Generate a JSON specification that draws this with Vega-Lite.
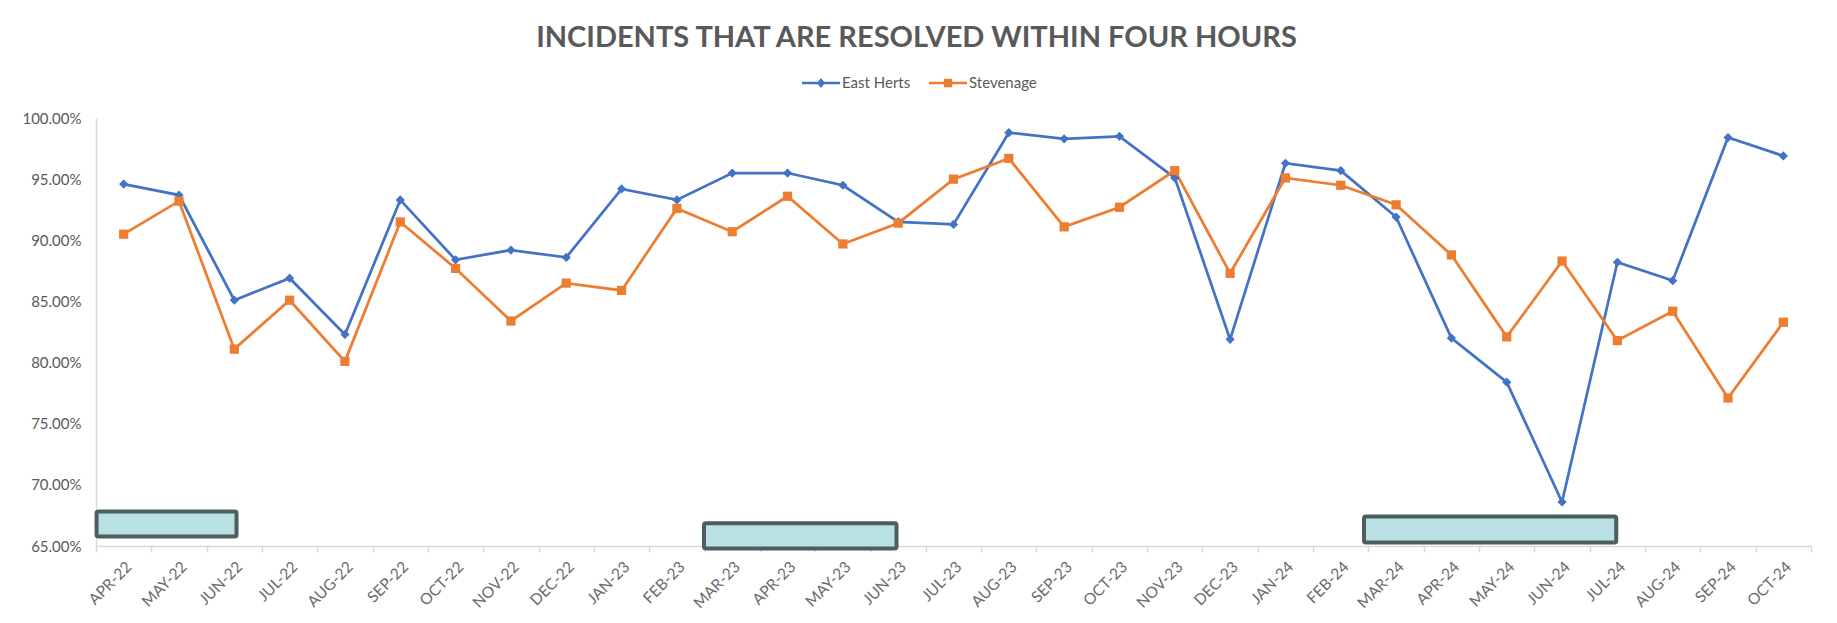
{
  "$schema": "https://vega.github.io/schema/vega-lite/v6.json",
  "width": 1715,
  "height": 428,
  "autosize": {"type": "none"},
  "padding": {"left": 96, "top": 118, "right": 26, "bottom": 77},
  "background": "white",
  "config": {"view": {"stroke": null}},
  "title": {
    "text": "INCIDENTS THAT ARE RESOLVED WITHIN FOUR HOURS",
    "anchor": "middle",
    "font": "Lato",
    "fontSize": 29,
    "fontWeight": "bold",
    "color": "#595959",
    "dx": -37,
    "offset": 11
  },
  "datasets": {
    "perf": [
      {"month": "APR-22", "series": "East Herts", "value": 0.946},
      {"month": "MAY-22", "series": "East Herts", "value": 0.937},
      {"month": "JUN-22", "series": "East Herts", "value": 0.851},
      {"month": "JUL-22", "series": "East Herts", "value": 0.869},
      {"month": "AUG-22", "series": "East Herts", "value": 0.823},
      {"month": "SEP-22", "series": "East Herts", "value": 0.933},
      {"month": "OCT-22", "series": "East Herts", "value": 0.884},
      {"month": "NOV-22", "series": "East Herts", "value": 0.892},
      {"month": "DEC-22", "series": "East Herts", "value": 0.886},
      {"month": "JAN-23", "series": "East Herts", "value": 0.942},
      {"month": "FEB-23", "series": "East Herts", "value": 0.933},
      {"month": "MAR-23", "series": "East Herts", "value": 0.955},
      {"month": "APR-23", "series": "East Herts", "value": 0.955},
      {"month": "MAY-23", "series": "East Herts", "value": 0.945},
      {"month": "JUN-23", "series": "East Herts", "value": 0.915},
      {"month": "JUL-23", "series": "East Herts", "value": 0.913},
      {"month": "AUG-23", "series": "East Herts", "value": 0.988},
      {"month": "SEP-23", "series": "East Herts", "value": 0.983},
      {"month": "OCT-23", "series": "East Herts", "value": 0.985},
      {"month": "NOV-23", "series": "East Herts", "value": 0.951},
      {"month": "DEC-23", "series": "East Herts", "value": 0.819},
      {"month": "JAN-24", "series": "East Herts", "value": 0.963},
      {"month": "FEB-24", "series": "East Herts", "value": 0.957},
      {"month": "MAR-24", "series": "East Herts", "value": 0.919},
      {"month": "APR-24", "series": "East Herts", "value": 0.820},
      {"month": "MAY-24", "series": "East Herts", "value": 0.784},
      {"month": "JUN-24", "series": "East Herts", "value": 0.686},
      {"month": "JUL-24", "series": "East Herts", "value": 0.882},
      {"month": "AUG-24", "series": "East Herts", "value": 0.867},
      {"month": "SEP-24", "series": "East Herts", "value": 0.984},
      {"month": "OCT-24", "series": "East Herts", "value": 0.969},
      {"month": "APR-22", "series": "Stevenage", "value": 0.905},
      {"month": "MAY-22", "series": "Stevenage", "value": 0.932},
      {"month": "JUN-22", "series": "Stevenage", "value": 0.811},
      {"month": "JUL-22", "series": "Stevenage", "value": 0.851},
      {"month": "AUG-22", "series": "Stevenage", "value": 0.801},
      {"month": "SEP-22", "series": "Stevenage", "value": 0.915},
      {"month": "OCT-22", "series": "Stevenage", "value": 0.877},
      {"month": "NOV-22", "series": "Stevenage", "value": 0.834},
      {"month": "DEC-22", "series": "Stevenage", "value": 0.865},
      {"month": "JAN-23", "series": "Stevenage", "value": 0.859},
      {"month": "FEB-23", "series": "Stevenage", "value": 0.926},
      {"month": "MAR-23", "series": "Stevenage", "value": 0.907},
      {"month": "APR-23", "series": "Stevenage", "value": 0.936},
      {"month": "MAY-23", "series": "Stevenage", "value": 0.897},
      {"month": "JUN-23", "series": "Stevenage", "value": 0.914},
      {"month": "JUL-23", "series": "Stevenage", "value": 0.950},
      {"month": "AUG-23", "series": "Stevenage", "value": 0.967},
      {"month": "SEP-23", "series": "Stevenage", "value": 0.911},
      {"month": "OCT-23", "series": "Stevenage", "value": 0.927},
      {"month": "NOV-23", "series": "Stevenage", "value": 0.957},
      {"month": "DEC-23", "series": "Stevenage", "value": 0.873},
      {"month": "JAN-24", "series": "Stevenage", "value": 0.951},
      {"month": "FEB-24", "series": "Stevenage", "value": 0.945},
      {"month": "MAR-24", "series": "Stevenage", "value": 0.929},
      {"month": "APR-24", "series": "Stevenage", "value": 0.888},
      {"month": "MAY-24", "series": "Stevenage", "value": 0.821},
      {"month": "JUN-24", "series": "Stevenage", "value": 0.883},
      {"month": "JUL-24", "series": "Stevenage", "value": 0.818},
      {"month": "AUG-24", "series": "Stevenage", "value": 0.842},
      {"month": "SEP-24", "series": "Stevenage", "value": 0.771},
      {"month": "OCT-24", "series": "Stevenage", "value": 0.833}
    ],
    "boxes": [
      {"x0": -0.49, "x1": 2.04, "y0": 0.6578, "y1": 0.6782},
      {"x0": 10.49, "x1": 13.97, "y0": 0.6480, "y1": 0.6686},
      {"x0": 22.42, "x1": 26.98, "y0": 0.6529, "y1": 0.6741}
    ]
  },
  "layer": [
    {
      "data": {"name": "perf"},
      "encoding": {
        "x": {
          "field": "month",
          "type": "ordinal",
          "sort": null,
          "bandPosition": 0.5,
          "scale": {"type": "band", "paddingInner": 0, "paddingOuter": 0},
          "axis": {
            "title": null,
            "labelAngle": -45,
            "labelFont": "Lato",
            "labelFontSize": 15.5,
            "labelColor": "#6b6b6b",
            "domainColor": "#d9d9d9",
            "domainWidth": 1.5,
            "tickColor": "#d9d9d9",
            "tickWidth": 1.5,
            "tickSize": 6,
            "tickBand": "extent",
            "labelPadding": 7,
            "grid": false
          }
        },
        "y": {
          "field": "value",
          "type": "quantitative",
          "scale": {"domain": [0.65, 1.0], "nice": false, "zero": false},
          "axis": {
            "title": null,
            "format": ".2%",
            "values": [0.65, 0.7, 0.75, 0.8, 0.85, 0.9, 0.95, 1.0],
            "ticks": false,
            "labelPadding": 15,
            "labelFont": "Lato",
            "labelFontSize": 15,
            "labelColor": "#595959",
            "domainColor": "#d9d9d9",
            "domainWidth": 1.5,
            "grid": false
          }
        },
        "color": {
          "field": "series",
          "type": "nominal",
          "scale": {"domain": ["East Herts", "Stevenage"], "range": ["#4472C4", "#ED7D31"]},
          "legend": {
            "orient": "none",
            "direction": "horizontal",
            "legendX": 706,
            "legendY": -54,
            "title": null,
            "symbolType": "circle",
            "symbolSize": 1444,
            "labelFont": "Lato",
            "labelFontSize": 15,
            "labelColor": "#595959",
            "labelOffset": 2,
            "columnPadding": 18,
            "encode": {
              "symbols": {
                "update": {
                  "shape": {"signal": "datum.value == 'East Herts' ? 'M-1,-0.07H1V0.07H-1Z M0,-0.26L0.21,0L0,0.26L-0.21,0Z' : 'M-1,-0.07H1V0.07H-1Z M-0.22,-0.22H0.22V0.22H-0.22Z'"},
                  "fill": {"signal": "datum.value == 'East Herts' ? '#4472C4' : '#ED7D31'"},
                  "fillOpacity": {"value": 1},
                  "strokeWidth": {"value": 0}
                }
              }
            }
          }
        }
      },
      "layer": [
        {"mark": {"type": "line", "strokeWidth": 2.75, "clip": false}},
        {
          "mark": {"type": "point", "filled": true, "opacity": 1, "size": 85, "clip": false},
          "encoding": {
            "shape": {
              "condition": {"test": "datum.series == 'East Herts'", "value": "diamond"},
              "value": "square"
            }
          }
        }
      ]
    },
    {
      "data": {"name": "boxes"},
      "mark": {"type": "rect", "fill": "#B9E0E3", "stroke": "#4D5E5E", "strokeWidth": 4, "cornerRadius": 2, "clip": false},
      "encoding": {
        "x": {"field": "x0", "type": "quantitative", "scale": {"domain": [-0.5, 30.5], "nice": false, "zero": false}, "axis": null},
        "x2": {"field": "x1"},
        "y": {"field": "y0", "type": "quantitative"},
        "y2": {"field": "y1"}
      }
    }
  ],
  "resolve": {"scale": {"x": "independent"}}
}
